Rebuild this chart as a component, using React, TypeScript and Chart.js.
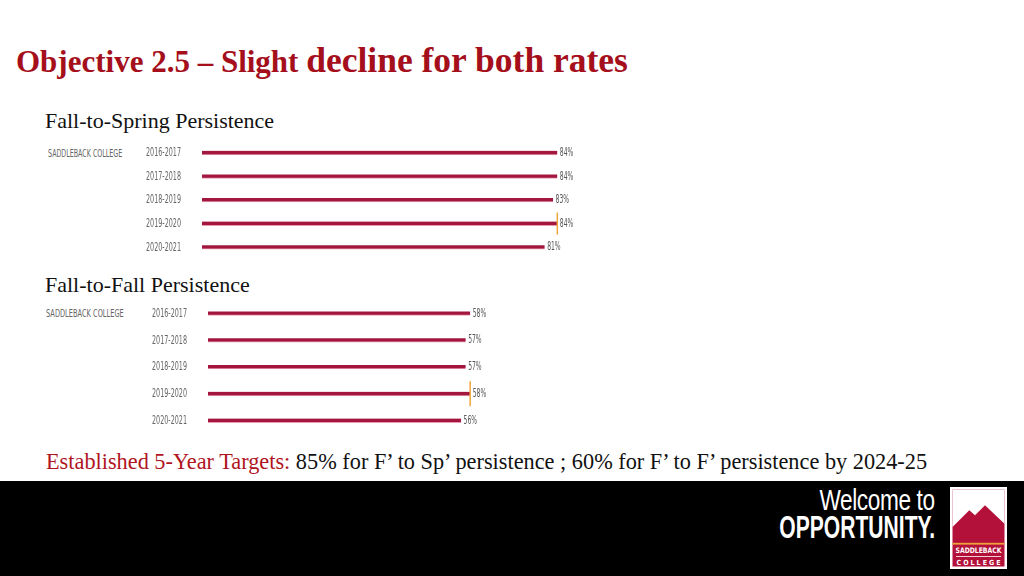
import React, { useEffect, useRef } from "react";
import { Chart, registerables } from "chart.js";

Chart.register(...registerables);

const years = ["2016-2017", "2017-2018", "2018-2019", "2019-2020", "2020-2021"];
const springValues = [84, 84, 83, 84, 81];
const springMarker = [null, null, null, 84, null];
const fallValues = [58, 57, 57, 58, 56];
const fallMarker = [null, null, null, 58, null];
const collegeName = "SADDLEBACK COLLEGE";
const titleA = "Objective 2.5 – Slight ";
const titleB = "decline for both rates";
const springTitle = "Fall-to-Spring Persistence";
const fallTitle = "Fall-to-Fall Persistence";
const targetLead = "Established 5-Year Targets:";
const targetText = " 85% for F’ to Sp’ persistence ; 60% for F’ to F’ persistence by 2024-25";

const NARROW = "'Liberation Sans Narrow', 'DejaVu Sans Condensed', 'Roboto', sans-serif";
const SERIF = "'Liberation Serif', 'DejaVu Serif', serif";

type ChartProps = {
  values: number[];
  marker: (number | null)[];
  width: number;
  height: number;
  markerRadius: number;
};

const labelPlugin = {
  id: "condensedLabels",
  afterDatasetsDraw(chart: any) {
    const ctx = chart.ctx;
    const yScale = chart.scales.y;
    const area = chart.chartArea;
    ctx.save();
    // year labels
    ctx.font = `13px ${NARROW}`;
    const ref = ctx.measureText("2016-2017").width || 1;
    const sx = 35 / ref;
    ctx.fillStyle = "#666666";
    ctx.textBaseline = "middle";
    ctx.textAlign = "right";
    years.forEach((lab, i) => {
      const y = yScale.getPixelForValue(i);
      ctx.save();
      ctx.translate(area.left - 21, y);
      ctx.scale(sx, 1);
      ctx.fillText(lab, 0, 0);
      ctx.restore();
    });
    // value labels
    const meta = chart.getDatasetMeta(0);
    ctx.font = `12px ${NARROW}`;
    const ref2 = ctx.measureText("84%").width || 1;
    const sx2 = 13.5 / ref2;
    ctx.textAlign = "left";
    ctx.fillStyle = "#555555";
    meta.data.forEach((bar: any, i: number) => {
      const v = chart.data.datasets[0].data[i];
      ctx.save();
      ctx.translate(bar.x + 2.5, bar.y);
      ctx.scale(sx2, 1);
      ctx.fillText(`${v}%`, 0, 0);
      ctx.restore();
    });
    ctx.restore();
  },
};

function PersistenceChart({ values, marker, width, height, markerRadius }: ChartProps) {
  const ref = useRef<HTMLCanvasElement>(null);
  useEffect(() => {
    if (!ref.current) return;
    const chart = new Chart(ref.current, {
      type: "bar",
      data: {
        labels: years,
        datasets: [
          {
            type: "bar",
            data: values,
            backgroundColor: "#a3173f",
            borderColor: "#e79ab0",
            borderWidth: { top: 0, bottom: 1, left: 0, right: 0 },
            borderSkipped: false,
            barThickness: 4,
            order: 2,
          } as any,
          {
            type: "line",
            indexAxis: "y",
            data: marker,
            showLine: false,
            borderWidth: 0,
            pointStyle: "line",
            rotation: 90,
            pointRadius: (c: any) => (c.raw == null ? 0 : markerRadius),
            pointHoverRadius: 0,
            pointHitRadius: 0,
            pointBorderWidth: 1.5,
            pointBorderColor: "#f0a53a",
            borderColor: "#f0a53a",
            clip: false,
            order: 1,
          } as any,
        ],
      },
      options: {
        indexAxis: "y",
        responsive: false,
        animation: false,
        layout: { padding: 0 },
        plugins: { legend: { display: false }, tooltip: { enabled: false } },
        scales: {
          x: { display: false, min: 0, max: 100 },
          y: {
            grid: { display: false, drawTicks: false },
            border: { display: false },
            ticks: { display: false },
            afterFit: (s: any) => {
              s.width = 62;
            },
          },
        },
      } as any,
      plugins: [labelPlugin],
    });
    return () => chart.destroy();
  }, []);
  return <canvas ref={ref} width={width} height={height} style={{ display: "block", width, height }} />;
}

function Logo() {
  return (
    <svg width={57} height={82} viewBox="0 0 57 82" style={{ position: "absolute", left: 950, top: 487 }}>
      <rect x={0} y={0} width={57} height={82} fill="#ffffff" />
      <rect x={2.5} y={2.5} width={52} height={77} fill="#b3113a" />
      <polygon points="2.5,2.5 54.5,2.5 54.5,36.7 35,18.3 25,28.3 19.3,23.3 2.5,40" fill="#ffffff" />
      <rect x={2.5} y={55.8} width={52} height={1.8} fill="#f2a23c" />
      <text
        x={28.5}
        y={66.3}
        fill="#ffffff"
        fontSize={7.5}
        fontWeight="bold"
        textAnchor="middle"
        fontFamily={NARROW}
        textLength={46}
        lengthAdjust="spacingAndGlyphs"
      >
        SADDLEBACK
      </text>
      <rect x={6} y={69} width={45} height={0.8} fill="#ffffff" />
      <text
        x={28.5}
        y={77.8}
        fill="#ffffff"
        fontSize={7}
        fontWeight="bold"
        textAnchor="middle"
        fontFamily={NARROW}
        textLength={44}
        lengthAdjust="spacing"
      >
        COLLEGE
      </text>
    </svg>
  );
}

export default function App() {
  return (
    <div style={{ position: "absolute", left: 0, top: 0, width: 1024, height: 576, background: "#ffffff", overflow: "hidden" }}>
      <div
        style={{
          position: "absolute",
          left: 16,
          top: 40,
          lineHeight: "40px",
          whiteSpace: "nowrap",
          color: "#a50f1c",
          fontFamily: SERIF,
          fontWeight: "bold",
        }}
      >
        <span style={{ fontSize: 31 }}>{titleA}</span>
        <span style={{ fontSize: 35.5 }}>{titleB}</span>
      </div>

      <div style={{ position: "absolute", left: 45, top: 110, fontFamily: SERIF, fontSize: 22, lineHeight: "22px", color: "#111", whiteSpace: "nowrap" }}>
        {springTitle}
      </div>
      <div style={{ position: "absolute", left: 48, top: 147, fontFamily: NARROW, fontSize: 11, lineHeight: "14px", color: "#666", whiteSpace: "nowrap", transform: "scaleX(0.64)", transformOrigin: "left top" }}>
        {collegeName}
      </div>
      <div style={{ position: "absolute", left: 140, top: 141 }}>
        <PersistenceChart values={springValues} marker={springMarker} width={485} height={118} markerRadius={11} />
      </div>

      <div style={{ position: "absolute", left: 45, top: 273.5, fontFamily: SERIF, fontSize: 22, lineHeight: "22px", color: "#111", whiteSpace: "nowrap" }}>
        {fallTitle}
      </div>
      <div style={{ position: "absolute", left: 46, top: 307, fontFamily: NARROW, fontSize: 11, lineHeight: "14px", color: "#666", whiteSpace: "nowrap", transform: "scaleX(0.67)", transformOrigin: "left top" }}>
        {collegeName}
      </div>
      <div style={{ position: "absolute", left: 146, top: 300 }}>
        <PersistenceChart values={fallValues} marker={fallMarker} width={514} height={134} markerRadius={12.5} />
      </div>

      <div style={{ position: "absolute", left: 46, top: 450.5, fontFamily: SERIF, fontSize: 22.3, lineHeight: "22px", color: "#111", whiteSpace: "nowrap" }}>
        <span style={{ color: "#b0141e" }}>{targetLead}</span>
        {targetText}
      </div>

      <div style={{ position: "absolute", left: 0, top: 481, width: 1024, height: 95, background: "#000000" }} />
      <div
        style={{
          position: "absolute",
          right: 89,
          top: 485,
          color: "#ffffff",
          fontFamily: "'Liberation Sans', Arial, sans-serif",
          fontSize: 29,
          lineHeight: "31px",
          whiteSpace: "nowrap",
          transform: "scaleX(0.78)",
          transformOrigin: "right top",
          letterSpacing: -0.5,
        }}
      >
        Welcome to
      </div>
      <div
        style={{
          position: "absolute",
          right: 89,
          top: 511,
          color: "#ffffff",
          fontFamily: "'Liberation Sans', Arial, sans-serif",
          fontWeight: "bold",
          fontSize: 31,
          lineHeight: "33px",
          whiteSpace: "nowrap",
          transform: "scaleX(0.68)",
          transformOrigin: "right top",
        }}
      >
        OPPORTUNITY.
      </div>
      <Logo />
    </div>
  );
}
